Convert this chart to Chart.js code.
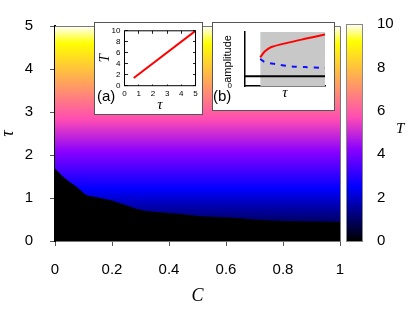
<!DOCTYPE html>
<html>
<head>
<meta charset="utf-8">
<script src="https://cdn.jsdelivr.net/npm/chart.js@4.4.1/dist/chart.umd.min.js"></script>
<style>
  body { margin: 0; background: #fff; }
  #wrap { position: relative; width: 415px; height: 312px; overflow: hidden; }
  canvas, .box, .lbl { position: absolute; }
  .box { background: #fff; border: 1px solid #555; box-sizing: border-box; }
  .lbl { font-family: "Liberation Sans", Arial, sans-serif; font-size: 15px; line-height: 1; white-space: nowrap; color: #000; }
  .ital { font-family: "Liberation Serif", serif; font-style: italic; }
</style>
</head>
<body>
<div id="wrap">
  <canvas id="main" width="415" height="312" style="left:0;top:0"></canvas>
  <canvas id="cbar" width="75" height="312" style="left:340px;top:0"></canvas>
  <div class="box" style="left:94px;top:22px;width:109px;height:93px"></div>
  <canvas id="insetA" width="109" height="93" style="left:94px;top:22px"></canvas>
  <div class="box" style="left:212px;top:22px;width:123px;height:89px"></div>
  <canvas id="insetB" width="123" height="89" style="left:212px;top:22px"></canvas>
  <span class="lbl" style="left:97px;top:88px">(a)</span>
  <span class="lbl" style="left:213px;top:88px">(b)</span>
  <span class="lbl ital" style="left:396px;top:121px">T</span>
</div>
<script>
// main map: boundary of the black region (no oscillation)
const boundaryC   = [0, 0.012, 0.023, 0.035, 0.053, 0.07, 0.088, 0.105, 0.117, 0.146, 0.2, 0.25, 0.287, 0.32, 0.38, 0.44, 0.51, 0.626, 0.72, 0.8, 1];
const boundaryTau = [1.68, 1.61, 1.53, 1.46, 1.365, 1.29, 1.19, 1.09, 1.05, 1.02, 0.94, 0.83, 0.745, 0.70, 0.66, 0.63, 0.575, 0.54, 0.49, 0.465, 0.44];
const cRange   = [0, 1];
const tauRange = [0, 5];
const tRange   = [0, 10];

// inset (a): period T vs tau
const insetTau = [0.65, 5];
const insetT   = [1.4, 10];

// inset (b): amplitude sketch
const shadeStart = 0.19;
const redX  = [0.19, 0.25, 0.33, 0.54, 0.75, 1.0];
const redY  = [0.53, 0.64, 0.72, 0.80, 0.87, 0.95];
const blueX = [0.19, 0.25, 0.4, 0.58, 0.75, 1.0];
const blueY = [0.50, 0.44, 0.40, 0.36, 0.35, 0.33];
const zeroLevel = 0.18;

const sans = '"Liberation Sans", Arial, sans-serif';
const serif = '"Liberation Serif", serif';
Chart.defaults.font.family = sans;
Chart.defaults.color = '#000';
Chart.defaults.elements.point.radius = 0;
Chart.defaults.plugins.legend.display = false;
Chart.defaults.plugins.tooltip.enabled = false;

const pts = (xs, ys) => xs.map((x, i) => ({ x, y: ys[i] }));
const plain = v => String(+v.toFixed(2));

// gnuplot rgbformulae 30,31,32
function palette(v) {
  const cl = a => Math.max(0, Math.min(1, a));
  const r = cl(v / 0.32 - 0.78125);
  const g = cl(2 * v - 0.84);
  let b;
  if (v < 0.25) b = 4 * v;
  else if (v < 0.42) b = 1;
  else if (v < 0.92) b = -2 * v + 1.84;
  else b = v / 0.08 - 11.5;
  b = cl(b);
  return `rgb(${Math.round(r * 255)},${Math.round(g * 255)},${Math.round(b * 255)})`;
}

// T(tau) from the line of inset (a)
const slope = (insetT[1] - insetT[0]) / (insetTau[1] - insetTau[0]);
const periodOf = tau => insetT[0] + slope * (tau - insetTau[0]);

function heatGradient(context) {
  const chart = context.chart;
  if (!chart.chartArea) return 'transparent';
  const y = chart.scales.y;
  const g = chart.ctx.createLinearGradient(0, y.getPixelForValue(tauRange[0]), 0, y.getPixelForValue(tauRange[1]));
  for (let i = 0; i <= 100; i++) {
    const tau = tauRange[0] + (tauRange[1] - tauRange[0]) * i / 100;
    g.addColorStop(i / 100, palette(periodOf(tau) / tRange[1]));
  }
  return g;
}

function barGradient(context) {
  const chart = context.chart;
  if (!chart.chartArea) return 'transparent';
  const y = chart.scales.y;
  const g = chart.ctx.createLinearGradient(0, y.getPixelForValue(tRange[0]), 0, y.getPixelForValue(tRange[1]));
  for (let i = 0; i <= 100; i++) g.addColorStop(i / 100, palette(i / 100));
  return g;
}

const tickFont = { family: sans, size: 15 };

// main map
new Chart(document.getElementById('main'), {
  type: 'line',
  data: {
    datasets: [
      { data: pts(boundaryC, boundaryTau), borderWidth: 0, fill: 'origin', backgroundColor: '#000', order: 0 },
      { data: pts(cRange, [tauRange[1], tauRange[1]]), borderWidth: 0, fill: 'origin', backgroundColor: heatGradient, order: 1 }
    ]
  },
  options: {
    animation: false,
    responsive: false,
    layout: { padding: { top: 15, right: 75, left: 0, bottom: 0 } },
    scales: {
      x: {
        type: 'linear', min: cRange[0], max: cRange[1], z: 1,
        ticks: { stepSize: 0.2, font: tickFont, padding: 15, autoSkip: false, callback: plain },
        grid: { drawOnChartArea: false, tickLength: 5, color: '#555' },
        border: { color: '#777', width: 1 },
        title: { display: true, text: 'C', font: { family: serif, style: 'italic', size: 18, lineHeight: 1 }, padding: { top: 0, bottom: 7 } },
        afterFit: s => { s.height = 71; }
      },
      y: {
        type: 'linear', min: tauRange[0], max: tauRange[1], z: 1,
        ticks: { stepSize: 1, font: tickFont, padding: 17, autoSkip: false },
        grid: { drawOnChartArea: false, tickLength: 5, color: '#555' },
        border: { color: '#000', width: 2 },
        title: { display: true, text: 'τ', font: { family: serif, style: 'italic', size: 18, lineHeight: 0.9 }, padding: { top: 0, bottom: 0 } },
        afterFit: s => { s.width = 55; }
      }
    }
  },
  plugins: [{
    id: 'frame',
    afterDraw(chart) {
      const { ctx, chartArea: a } = chart;
      ctx.save();
      ctx.strokeStyle = '#777';
      ctx.lineWidth = 1;
      ctx.beginPath();
      ctx.moveTo(a.left, a.top + 0.5);
      ctx.lineTo(a.right + 0.5, a.top + 0.5);
      ctx.lineTo(a.right + 0.5, a.bottom);
      ctx.stroke();
      ctx.restore();
    }
  }]
});

// colour bar
new Chart(document.getElementById('cbar'), {
  type: 'line',
  data: {
    datasets: [{ data: pts([0, 1], [tRange[1], tRange[1]]), borderWidth: 0, fill: 'origin', backgroundColor: barGradient }]
  },
  options: {
    animation: false,
    responsive: false,
    layout: { padding: { top: 15, right: 0, left: 7, bottom: 71 } },
    scales: {
      x: { type: 'linear', min: 0, max: 1, display: false },
      y: {
        type: 'linear', position: 'right', min: tRange[0], max: tRange[1], z: 1,
        ticks: { stepSize: 2, font: tickFont, padding: 15, autoSkip: false },
        grid: { drawTicks: false, color: '#333' },
        border: { display: false, dash: [3, 9] },
        afterFit: s => { s.width = 53; }
      }
    }
  },
  plugins: [{
    id: 'frame',
    afterDraw(chart) {
      const { ctx, chartArea: a } = chart;
      ctx.save();
      ctx.strokeStyle = '#888';
      ctx.lineWidth = 1;
      ctx.strokeRect(a.left - 0.5, a.top + 0.5, a.right - a.left + 1, a.bottom - a.top);
      ctx.restore();
    }
  }]
});

// inset (a)
const smallFont = { family: sans, size: 8 };
new Chart(document.getElementById('insetA'), {
  type: 'line',
  data: {
    datasets: [{ data: pts(insetTau, insetT), borderColor: '#f00', borderWidth: 2, fill: false }]
  },
  options: {
    animation: false,
    responsive: false,
    layout: { padding: { top: 7, right: 7.5, left: 0, bottom: 0 } },
    scales: {
      x: {
        type: 'linear', min: 0, max: 5,
        ticks: { stepSize: 1, font: smallFont, padding: 3, autoSkip: false, maxRotation: 0 },
        grid: { drawTicks: false, color: '#222' },
        border: { display: false, dash: [3, 50.7] },
        title: { display: true, text: 'τ', font: { family: serif, style: 'italic', size: 15, lineHeight: 1 }, padding: { top: 0, bottom: 2.4 } },
        afterFit: s => { s.height = 29.3; }
      },
      y: {
        type: 'linear', min: 0, max: 10,
        ticks: { stepSize: 2, font: smallFont, padding: 4, autoSkip: false },
        grid: { drawTicks: false, color: '#222' },
        border: { display: false, dash: [3, 65] },
        title: { display: true, text: 'T', font: { family: serif, style: 'italic', size: 15, lineHeight: 1 }, padding: { top: 3.5, bottom: 0 } },
        afterFit: s => { s.width = 30.5; }
      }
    }
  },
  plugins: [{
    id: 'frame',
    afterDraw(chart) {
      const { ctx, chartArea: a } = chart;
      ctx.save();
      ctx.strokeStyle = '#000';
      ctx.lineWidth = 1;
      ctx.strokeRect(a.left, a.top, a.right - a.left, a.bottom - a.top);
      ctx.restore();
    }
  }]
});

// inset (b)
new Chart(document.getElementById('insetB'), {
  type: 'line',
  data: {
    datasets: [
      { data: pts([shadeStart, 1], [1, 1]), borderWidth: 0, fill: 'origin', backgroundColor: '#c8c8c8', order: 4 },
      { data: pts([0, 1], [zeroLevel, zeroLevel]), borderColor: '#000', borderWidth: 2, fill: false, order: 3 },
      { data: pts(blueX, blueY), borderColor: '#1010ff', borderWidth: 2, borderDash: [5, 6], fill: false, tension: 0.3, order: 2 },
      { data: pts(redX, redY), borderColor: '#f00', borderWidth: 2, fill: false, tension: 0.3, order: 1 }
    ]
  },
  options: {
    animation: false,
    responsive: false,
    layout: { padding: { top: 6, right: 10, left: 0, bottom: 0 } },
    scales: {
      x: {
        type: 'linear', min: 0, max: 1, z: 1,
        ticks: { display: false },
        grid: { display: false },
        border: { color: '#000', width: 1.5 },
        title: { display: true, text: 'τ', font: { family: serif, style: 'italic', size: 15, lineHeight: 1 }, padding: { top: 0, bottom: 10 } },
        afterFit: s => { s.height = 25; }
      },
      y: {
        type: 'linear', min: 0, max: 1, z: 1,
        afterBuildTicks: s => { s.ticks = [{ value: 0 }]; },
        ticks: { font: smallFont, padding: 5 },
        grid: { display: false },
        border: { color: '#000', width: 1.5 },
        title: { display: true, text: 'amplitude', font: { family: sans, size: 11, lineHeight: 1 }, padding: { top: 10, bottom: 0 } },
        afterFit: s => { s.width = 33; }
      }
    }
  }
});
</script>
</body>
</html>
